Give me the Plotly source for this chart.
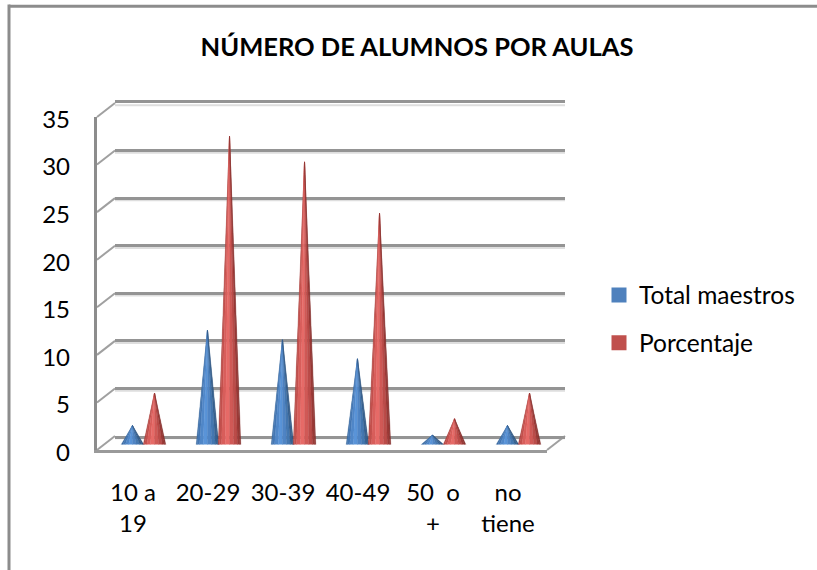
import math
import plotly.graph_objects as go

categories = ["10 a<br>19", "20-29", "30-39", "40-49", "50  o<br>+", "no<br>tiene"]
total_maestros = [2, 12, 11, 9, 1, 2]
porcentaje = [5.4, 32.4, 29.7, 24.3, 2.7, 5.4]
y_ticks = [0, 5, 10, 15, 20, 25, 30, 35]
blue_shades = ["#3a699f", "#4477b3", "#5087c8", "#5a94d8", "#4f84c4", "#4477b0", "#386393", "#2f5682"]
red_shades = ["#a83f3c", "#c2504d", "#d85e5b", "#e66a67", "#d05956", "#bb4c49", "#9c3a37", "#85302d"]

W, H = 817, 570
GRAY = "#8c8c8c"
FONT = "Lato"


def px_x(px):
    return px / W


def px_y(px):
    return 1 - px / H


def cone_traces(values, offset, shades, xref, yref):
    half, ell = 0.15, 0.3
    traces = []
    n = len(shades)
    for j, col in enumerate(shades):
        a0 = math.pi - math.pi * j / n
        a1 = math.pi - math.pi * (j + 1) / n
        xs, ys = [], []
        for i, v in enumerate(values):
            c = i + offset
            xs += [c, c + half * math.cos(a0), c + half * math.cos(a1), c, None]
            ys += [v, -ell * math.sin(a0), -ell * math.sin(a1), v, None]
        traces.append(go.Scatter(x=xs, y=ys, mode="lines", fill="toself", fillcolor=col,
                                 line=dict(color=col, width=0.4), hoverinfo="skip",
                                 showlegend=False, xaxis=xref, yaxis=yref))
    return traces


fig = go.Figure()
xr = [-0.5, 5.5]
yr = [0, 35]

# anchor traces keep the wall, front-plane and label axes alive
for xa, ya in (("x", "y"), ("x2", "y2"), ("x2", "y4")):
    fig.add_trace(go.Scatter(x=[0], y=[0], mode="markers", marker=dict(opacity=0), showlegend=False,
                             hoverinfo="skip", xaxis=xa, yaxis=ya))
for t in cone_traces(total_maestros, -0.147, blue_shades, "x3", "y3"):
    fig.add_trace(t)
for t in cone_traces(porcentaje, 0.147, red_shades, "x3", "y3"):
    fig.add_trace(t)
fig.add_trace(go.Scatter(x=[None], y=[None], mode="markers", name="Total maestros", legendgroup="a",
                         marker=dict(symbol="square", size=15, color="#4f81bd"), xaxis="x3", yaxis="y3"))
fig.add_trace(go.Scatter(x=[None], y=[None], mode="markers", name="Porcentaje", legendgroup="b",
                         marker=dict(symbol="square", size=15, color="#c0504d"), xaxis="x3", yaxis="y3"))

# perspective: back wall, front plane, and the mid-depth plane carrying the cones
BACK = (115, 565, 436, 103)
FRONT = (97, 547, 450, 117)
MID = (106, 556, 444.5, 111.5)
LABEL_DROP = 2.5
shapes = []
unit = (FRONT[2] - FRONT[3]) / 35
for k in y_ticks:
    yb = BACK[2] - k * unit
    yf = FRONT[2] - k * unit
    shapes.append(dict(type="line", xref="paper", yref="paper", layer="below",
                       x0=px_x(BACK[0]), x1=px_x(BACK[1]), y0=px_y(yb + 2.2), y1=px_y(yb + 2.2),
                       line=dict(color="#dedede", width=2)))
    shapes.append(dict(type="line", xref="paper", yref="paper", layer="below",
                       x0=px_x(FRONT[0]), x1=px_x(BACK[0]), y0=px_y(yf), y1=px_y(yb),
                       line=dict(color="#a0a0a0", width=2)))
shapes.append(dict(type="line", xref="paper", yref="paper", layer="below",
                   x0=px_x(FRONT[1]), x1=px_x(BACK[1]), y0=px_y(FRONT[2]), y1=px_y(BACK[2]),
                   line=dict(color="#a0a0a0", width=2)))
# chart frame (left and top edges only are in view)
shapes.append(dict(type="line", xref="paper", yref="paper", x0=px_x(9), x1=px_x(9), y0=px_y(4.6), y1=0,
                   line=dict(color=GRAY, width=3)))
shapes.append(dict(type="line", xref="paper", yref="paper", x0=px_x(9), x1=1, y0=px_y(6.3), y1=px_y(6.3),
                   line=dict(color=GRAY, width=3)))

tick_font = dict(family=FONT, size=24, color="#000000")
fig.update_layout(
    width=W, height=H, margin=dict(l=0, r=0, t=0, b=0, autoexpand=False),
    paper_bgcolor="white", plot_bgcolor="rgba(0,0,0,0)",
    shapes=shapes,
    title=dict(text="<b>NÚMERO DE ALUMNOS POR AULAS</b>", x=417 / W, xanchor="center",
               y=px_y(47), yanchor="middle", font=dict(family=FONT, size=25.5, color="#000000")),
    showlegend=True,
    legend=dict(x=px_x(599), xanchor="left", y=px_y(319), yanchor="middle", tracegroupgap=13,
                bgcolor="rgba(0,0,0,0)", font=dict(family=FONT, size=24.5, color="#000000"),
                traceorder="grouped"),
    # back wall
    xaxis=dict(domain=[px_x(BACK[0]), px_x(BACK[1])], range=xr, showticklabels=False, ticks="",
               showgrid=False, zeroline=False, showline=True, mirror=True, linecolor="#949494",
               linewidth=3, fixedrange=True),
    yaxis=dict(domain=[px_y(BACK[2]), px_y(BACK[3])], range=yr, anchor="x", tickvals=y_ticks,
               showticklabels=False, ticks="", showgrid=True, gridcolor="#949494", gridwidth=3,
               zeroline=False, showline=False, fixedrange=True),
    # front plane with tick labels
    xaxis2=dict(domain=[px_x(FRONT[0]), px_x(FRONT[1])], range=xr, anchor="y2",
                tickmode="array", tickvals=[i - 0.02 for i in range(len(categories))], ticktext=categories,
                tickfont=tick_font, ticks="", ticklabelstandoff=19, showgrid=False, zeroline=False,
                showline=True, linecolor="#9a9a9a", linewidth=3, fixedrange=True),
    yaxis2=dict(domain=[px_y(FRONT[2]), px_y(FRONT[3])], range=yr, anchor="x2", showticklabels=False,
                ticks="", showgrid=False, zeroline=False,
                showline=True, linecolor=GRAY, linewidth=3, fixedrange=True),
    # value labels, sitting slightly below the front-plane gridline positions
    yaxis4=dict(domain=[px_y(FRONT[2] + LABEL_DROP), px_y(FRONT[3] + LABEL_DROP)], range=yr, anchor="free",
                position=px_x(FRONT[0]), tickvals=y_ticks, tickfont=tick_font, ticks="",
                ticklabelstandoff=27, showgrid=False, zeroline=False, showline=False, fixedrange=True),
    # mid-depth plane
    xaxis3=dict(domain=[px_x(MID[0]), px_x(MID[1])], range=xr, anchor="y3", visible=False, fixedrange=True),
    yaxis3=dict(domain=[px_y(MID[2]), px_y(MID[3])], range=yr, anchor="x3", visible=False, fixedrange=True),
)

fig.write_html("out.html", post_script="document.body.style.margin='0';", config={"displayModeBar": False})
